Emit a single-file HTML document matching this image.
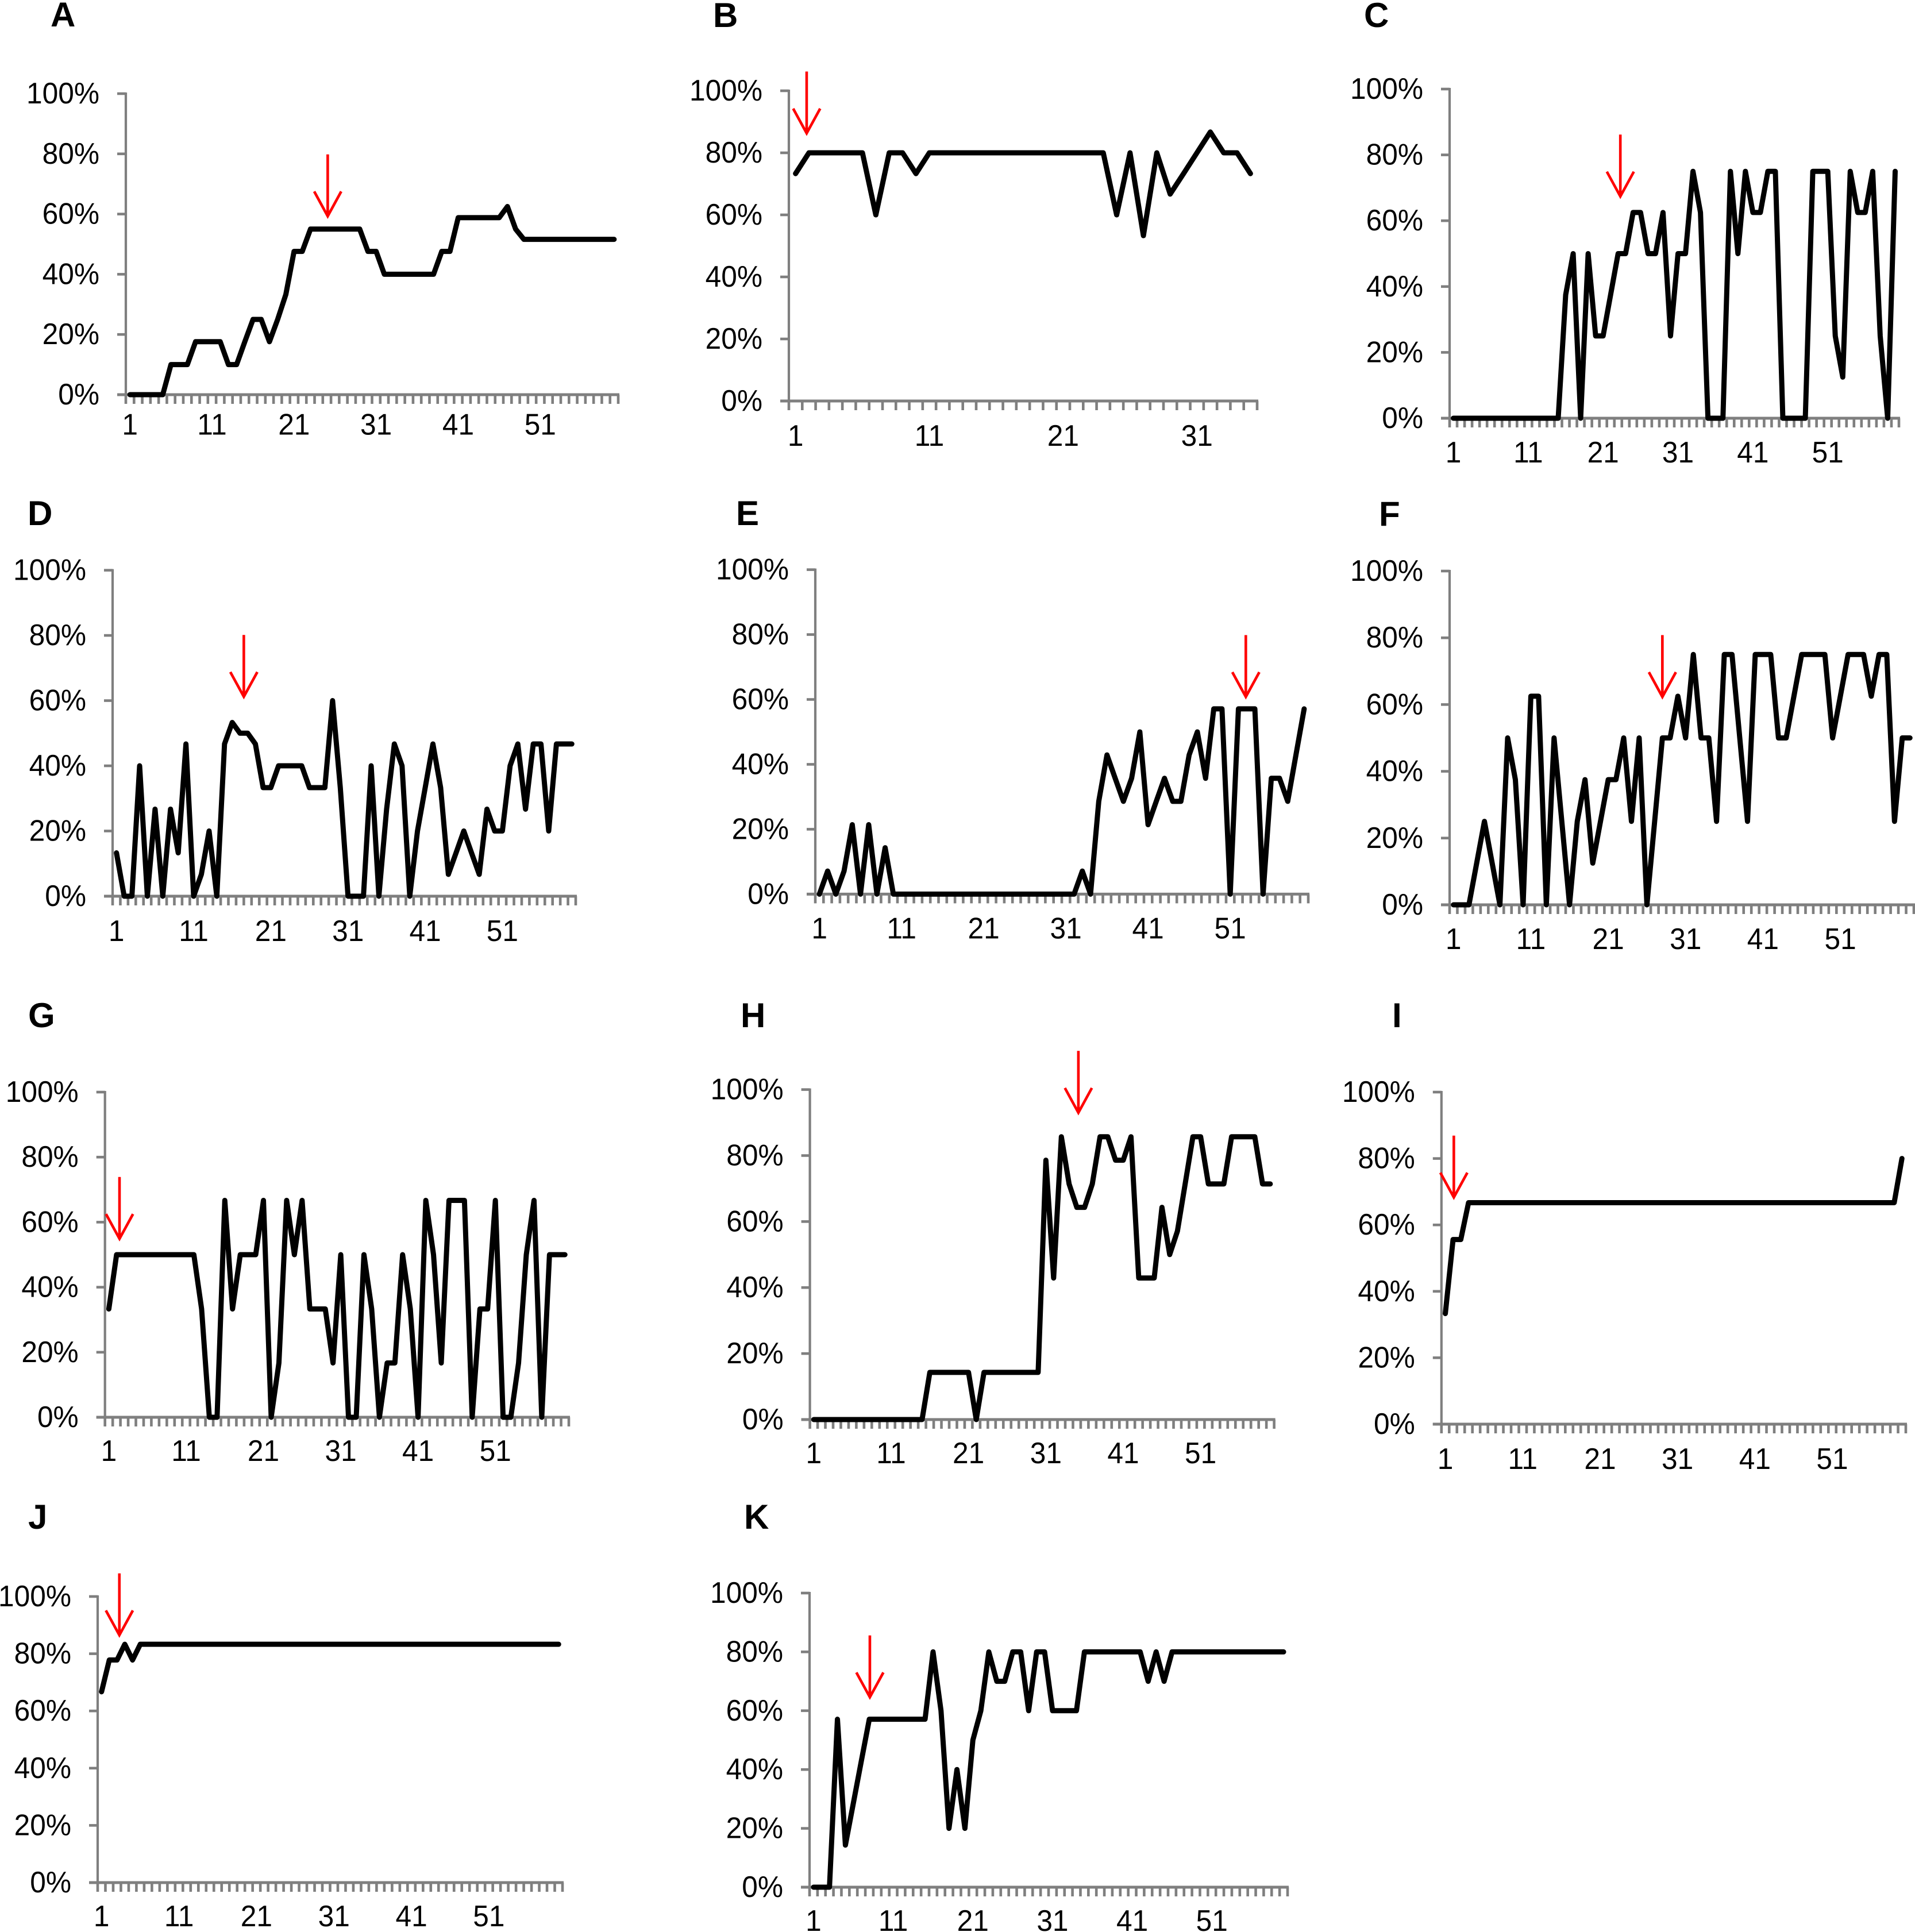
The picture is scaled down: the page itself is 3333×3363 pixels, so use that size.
<!DOCTYPE html>
<html lang="en">
<head>
<meta charset="utf-8">
<title>Panels A–K: percentage line charts</title>
<style>
html,body{margin:0;padding:0;background:#fff;width:3333px;height:3363px;overflow:hidden}
svg{display:block}
text{font-family:"Liberation Sans",Arial,sans-serif;fill:#000}
.tick-label{font-size:52px}
.panel-letter{font-size:60px;font-weight:bold}
</style>
</head>
<body>
<svg id="figure" xmlns="http://www.w3.org/2000/svg" width="3333" height="3363" viewBox="0 0 3333 3363"></svg>
<script>
// ---- Data ----
const yTickValues = [0, 20, 40, 60, 80, 100];
const yTickLabels = ['0%', '20%', '40%', '60%', '80%', '100%'];
const xTickLabelsLong = [1, 11, 21, 31, 41, 51];
const xTickLabelsShort = [1, 11, 21, 31];

const seriesA = [0,0,0,0,0, 10,10,10, 17.6,17.6,17.6,17.6, 10,10, 17.6, 25,25, 17.6, 25, 33.3, 47.6,47.6,
  55,55,55,55,55,55,55, 47.6,47.6, 40,40,40,40,40,40,40, 47.6,47.6,
  58.8,58.8,58.8,58.8,58.8,58.8, 62.5, 55,
  51.6,51.6,51.6,51.6,51.6,51.6,51.6,51.6,51.6,51.6,51.6,51.6];
const seriesB = [73.3, 80,80,80,80,80, 60, 80,80, 73.3,
  80,80,80,80,80,80,80,80,80,80,80,80,80,80,
  60, 80, 53.3, 80, 66.7, 73.3, 80, 86.7, 80, 80, 73.3];
const seriesC = [0,0,0,0,0,0,0,0,0,0,0,0,0,0,0,
  37.5, 50, 0, 50, 25, 25, 37.5, 50, 50, 62.5, 62.5, 50, 50, 62.5, 25, 50, 50, 75, 62.5,
  0,0,0, 75, 50, 75, 62.5, 62.5, 75, 75,
  0,0,0,0, 75,75,75, 25, 12.5, 75, 62.5, 62.5, 75, 25, 0, 75];
const seriesD = [13.3, 0, 0, 40, 0, 26.7, 0, 26.7, 13.3, 46.7,
  0, 6.7, 20, 0, 46.7, 53.3, 50, 50, 46.7, 33.3,
  33.3, 40, 40, 40, 40, 33.3, 33.3, 33.3, 60, 33.3,
  0, 0, 0, 40, 0, 26.7, 46.7, 40, 0, 20,
  33.3, 46.7, 33.3, 6.7, 13.3, 20, 13.3, 6.7, 26.7, 20,
  20, 40, 46.7, 26.7, 46.7, 46.7, 20, 46.7, 46.7, 46.7];
const seriesE = [0, 7.1, 0, 7.1, 21.4, 0, 21.4, 0, 14.3, 0,
  0,0,0,0,0,0,0,0,0,0,0,0,0,0,0,0,0,0,0,0,0,0,
  7.1, 0, 28.6, 42.9, 35.7, 28.6, 35.7, 50, 21.4, 28.6, 35.7, 28.6, 28.6, 42.9, 50, 35.7,
  57.1, 57.1, 0, 57.1, 57.1, 57.1, 0, 35.7, 35.7, 28.6, 42.9, 57.1];
const seriesF = [0, 0, 0, 12.5, 25, 12.5, 0, 50, 37.5, 0,
  62.5, 62.5, 0, 50, 25, 0, 25, 37.5, 12.5, 25,
  37.5, 37.5, 50, 25, 50, 0, 25, 50, 50, 62.5,
  50, 75, 50, 50, 25, 75, 75, 50, 25, 75,
  75, 75, 50, 50, 62.5, 75, 75, 75, 75, 50,
  62.5, 75, 75, 75, 62.5, 75, 75, 25, 50, 50];
const seriesG = [33.3, 50,50,50,50,50,50,50,50,50,50,50,
  33.3, 0, 0, 66.7, 33.3, 50, 50, 50, 66.7, 0, 16.7, 66.7, 50, 66.7,
  33.3, 33.3, 33.3, 16.7, 50, 0, 0, 50, 33.3, 0, 16.7, 16.7, 50, 33.3,
  0, 66.7, 50, 16.7, 66.7, 66.7, 66.7, 0, 33.3, 33.3,
  66.7, 0, 0, 16.7, 50, 66.7, 0, 50, 50, 50];
const seriesH = [0,0,0,0,0,0,0,0,0,0,0,0,0,0,0,
  14.3,14.3,14.3,14.3,14.3,14.3, 0,
  14.3,14.3,14.3,14.3,14.3,14.3,14.3,14.3,
  78.6, 42.9, 85.7, 71.4, 64.3, 64.3, 71.4, 85.7, 85.7, 78.6,
  78.6, 85.7, 42.9, 42.9, 42.9, 64.3, 50, 57.1, 71.4, 85.7,
  85.7, 71.4, 71.4, 71.4, 85.7, 85.7, 85.7, 85.7, 71.4, 71.4];
const seriesI = [33.3, 55.6, 55.6,
  66.7,66.7,66.7,66.7,66.7,66.7,66.7,66.7,66.7,66.7,
  66.7,66.7,66.7,66.7,66.7,66.7,66.7,66.7,66.7,66.7,
  66.7,66.7,66.7,66.7,66.7,66.7,66.7,66.7,66.7,66.7,
  66.7,66.7,66.7,66.7,66.7,66.7,66.7,66.7,66.7,66.7,
  66.7,66.7,66.7,66.7,66.7,66.7,66.7,66.7,66.7,66.7,
  66.7,66.7,66.7,66.7,66.7,66.7,
  80];
const seriesJ = [66.7, 77.8, 77.8, 83.3, 77.8,
  83.3,83.3,83.3,83.3,83.3,83.3,83.3,83.3,83.3,83.3,83.3,83.3,83.3,83.3,83.3,83.3,83.3,83.3,83.3,83.3,83.3,83.3,83.3,83.3,83.3,
  83.3,83.3,83.3,83.3,83.3,83.3,83.3,83.3,83.3,83.3,83.3,83.3,83.3,83.3,83.3,83.3,83.3,83.3,83.3,83.3,83.3,83.3,83.3,83.3,83.3,
  83.3,83.3,83.3,83.3,83.3];
const seriesK = [0, 0, 0, 57.1, 14.3, 28.6, 42.9,
  57.1,57.1,57.1,57.1,57.1,57.1,57.1,57.1,
  80, 60, 20, 40, 20, 50, 60, 80, 70, 70, 80, 80, 60, 80, 80,
  60,60,60,60,
  80,80,80,80,80,80,80,80, 70, 80, 70,
  80,80,80,80,80,80,80,80,80,80,80,80,80,80,80];

// Category each red arrow points at (fractional) and the percent level of its tip
const arrowCategories = { A: 25.1, B: 1.83, C: 23.3, D: 17.5, E: 52.9, F: 28, G: 2.38, H: 35.2, I: 2.1, J: 3.3, K: 8.07 };
const arrowTipPercents = { A: 59.3, B: 86.3, C: 67.4, D: 61.2, E: 60.8, F: 62.3, G: 54.9, H: 93, I: 68.3, J: 86.5, K: 64.6 };

// ---- Panel layout ----
const panels = [
  { id: 'A', series: seriesA, xLabels: xTickLabelsLong,  left: 219,    right: 1076,   top: 163,    bottom: 687,    letterX: 88,   letterY: 46,   xLabelGap: 69.5 },
  { id: 'B', series: seriesB, xLabels: xTickLabelsShort, left: 1373,   right: 2188,   top: 158,    bottom: 698,    letterX: 1241, letterY: 47,   xLabelGap: 78 },
  { id: 'C', series: seriesC, xLabels: xTickLabelsLong,  left: 2523,   right: 3305,   top: 155,    bottom: 728,    letterX: 2374, letterY: 47,   xLabelGap: 77 },
  { id: 'D', series: seriesD, xLabels: xTickLabelsLong,  left: 196,    right: 1002,   top: 992.6,  bottom: 1560,   letterX: 48,   letterY: 914,  xLabelGap: 78 },
  { id: 'E', series: seriesE, xLabels: xTickLabelsLong,  left: 1419,   right: 2277,   top: 991.6,  bottom: 1556.4, letterX: 1281, letterY: 914,  xLabelGap: 77 },
  { id: 'F', series: seriesF, xLabels: xTickLabelsLong,  left: 2523,   right: 3331,   top: 994,    bottom: 1575,   letterX: 2400, letterY: 915,  xLabelGap: 77 },
  { id: 'G', series: seriesG, xLabels: xTickLabelsLong,  left: 182.7,  right: 990,    top: 1901,   bottom: 2467,   letterX: 49,   letterY: 1788, xLabelGap: 76 },
  { id: 'H', series: seriesH, xLabels: xTickLabelsLong,  left: 1409.6, right: 2217.6, top: 1896.6, bottom: 2471,   letterX: 1289, letterY: 1788, xLabelGap: 76 },
  { id: 'I', series: seriesI, xLabels: xTickLabelsLong,  left: 2508.8, right: 3317,   top: 1901,   bottom: 2479,   letterX: 2423, letterY: 1788, xLabelGap: 78 },
  { id: 'J', series: seriesJ, xLabels: xTickLabelsLong,  left: 170,    right: 979,    top: 2779,   bottom: 3277,   letterX: 49,   letterY: 2661, xLabelGap: 76 },
  { id: 'K', series: seriesK, xLabels: xTickLabelsLong,  left: 1409,   right: 2241,   top: 2773,   bottom: 3285,   letterX: 1295, letterY: 2661, xLabelGap: 76 }
];

const NS = 'http://www.w3.org/2000/svg';
const AXIS_COLOR = '#7f7f7f';
const LABEL_SQUEEZE = 0.955;
const root = document.getElementById('figure');

function shape(parent, tag, props) {
  const node = document.createElementNS(NS, tag);
  for (const key in props) node.setAttribute(key, props[key]);
  parent.appendChild(node);
  return node;
}

function labelTransform(x, y) {
  return 'translate(' + x + ' ' + y + ') scale(' + LABEL_SQUEEZE + ' 1)';
}

panels.forEach(function (p) {
  const key = p.id.toLowerCase();
  const count = p.series.length;
  const step = (p.right - p.left) / count;
  const xScale = function (cat) { return p.left + (cat - 0.5) * step; };
  const yScale = function (pct) { return p.bottom - (pct / 100) * (p.bottom - p.top); };

  const group = shape(root, 'g', {});
  
  

  const letter = shape(group, 'text', { x: p.letterX, y: p.letterY, 'class': 'panel-letter' });
  letter.textContent = p.id;
  
  

  const yAxis = shape(group, 'line', { x1: p.left, x2: p.left, y1: p.top - 2, y2: p.bottom, stroke: AXIS_COLOR, 'stroke-width': 4.2 });
  
  

  const xAxis = shape(group, 'line', { x1: p.left - 15, x2: p.right + 2, y1: p.bottom, y2: p.bottom, stroke: AXIS_COLOR, 'stroke-width': 5 });
  
  

  yTickValues.forEach(function (value, idx) {
    const y = yScale(value);
    const tick = shape(group, 'line', { x1: p.left - 15, x2: p.left, y1: y, y2: y, stroke: AXIS_COLOR, 'stroke-width': 4.6 });
    
    
    const label = shape(group, 'text', { transform: labelTransform(p.left - 46, y + 17), 'text-anchor': 'end', 'class': 'tick-label' });
    label.textContent = yTickLabels[idx];
    
    
  });

  for (let k = 0; k <= count; k++) {
    const x = p.left + k * step;
    const tick = shape(group, 'line', { x1: x, x2: x, y1: p.bottom, y2: p.bottom + 16, stroke: AXIS_COLOR, 'stroke-width': 4.6 });
    
    
  }

  p.xLabels.forEach(function (cat) {
    const label = shape(group, 'text', { transform: labelTransform(xScale(cat), p.bottom + p.xLabelGap), 'text-anchor': 'middle', 'class': 'tick-label' });
    label.textContent = String(cat);
    
    
  });

  const points = p.series.map(function (value, i) {
    return xScale(i + 1).toFixed(2) + ',' + yScale(value).toFixed(2);
  }).join(' ');
  const line = shape(group, 'polyline', { points: points, fill: 'none', stroke: '#000', 'stroke-width': 9, 'stroke-linejoin': 'round', 'stroke-linecap': 'round' });
  
  

  const ax = xScale(arrowCategories[p.id]);
  const tip = yScale(arrowTipPercents[p.id]);
  const arrow = shape(group, 'path', {
    d: 'M' + ax + ' ' + (tip - 107.5) + 'V' + tip + 'M' + (ax - 23.5) + ' ' + (tip - 43) + 'L' + ax + ' ' + tip + 'L' + (ax + 23.5) + ' ' + (tip - 43),
    fill: 'none', stroke: '#ff0000', 'stroke-width': 4.6
  });
  
  
});
</script>
</body>
</html>
